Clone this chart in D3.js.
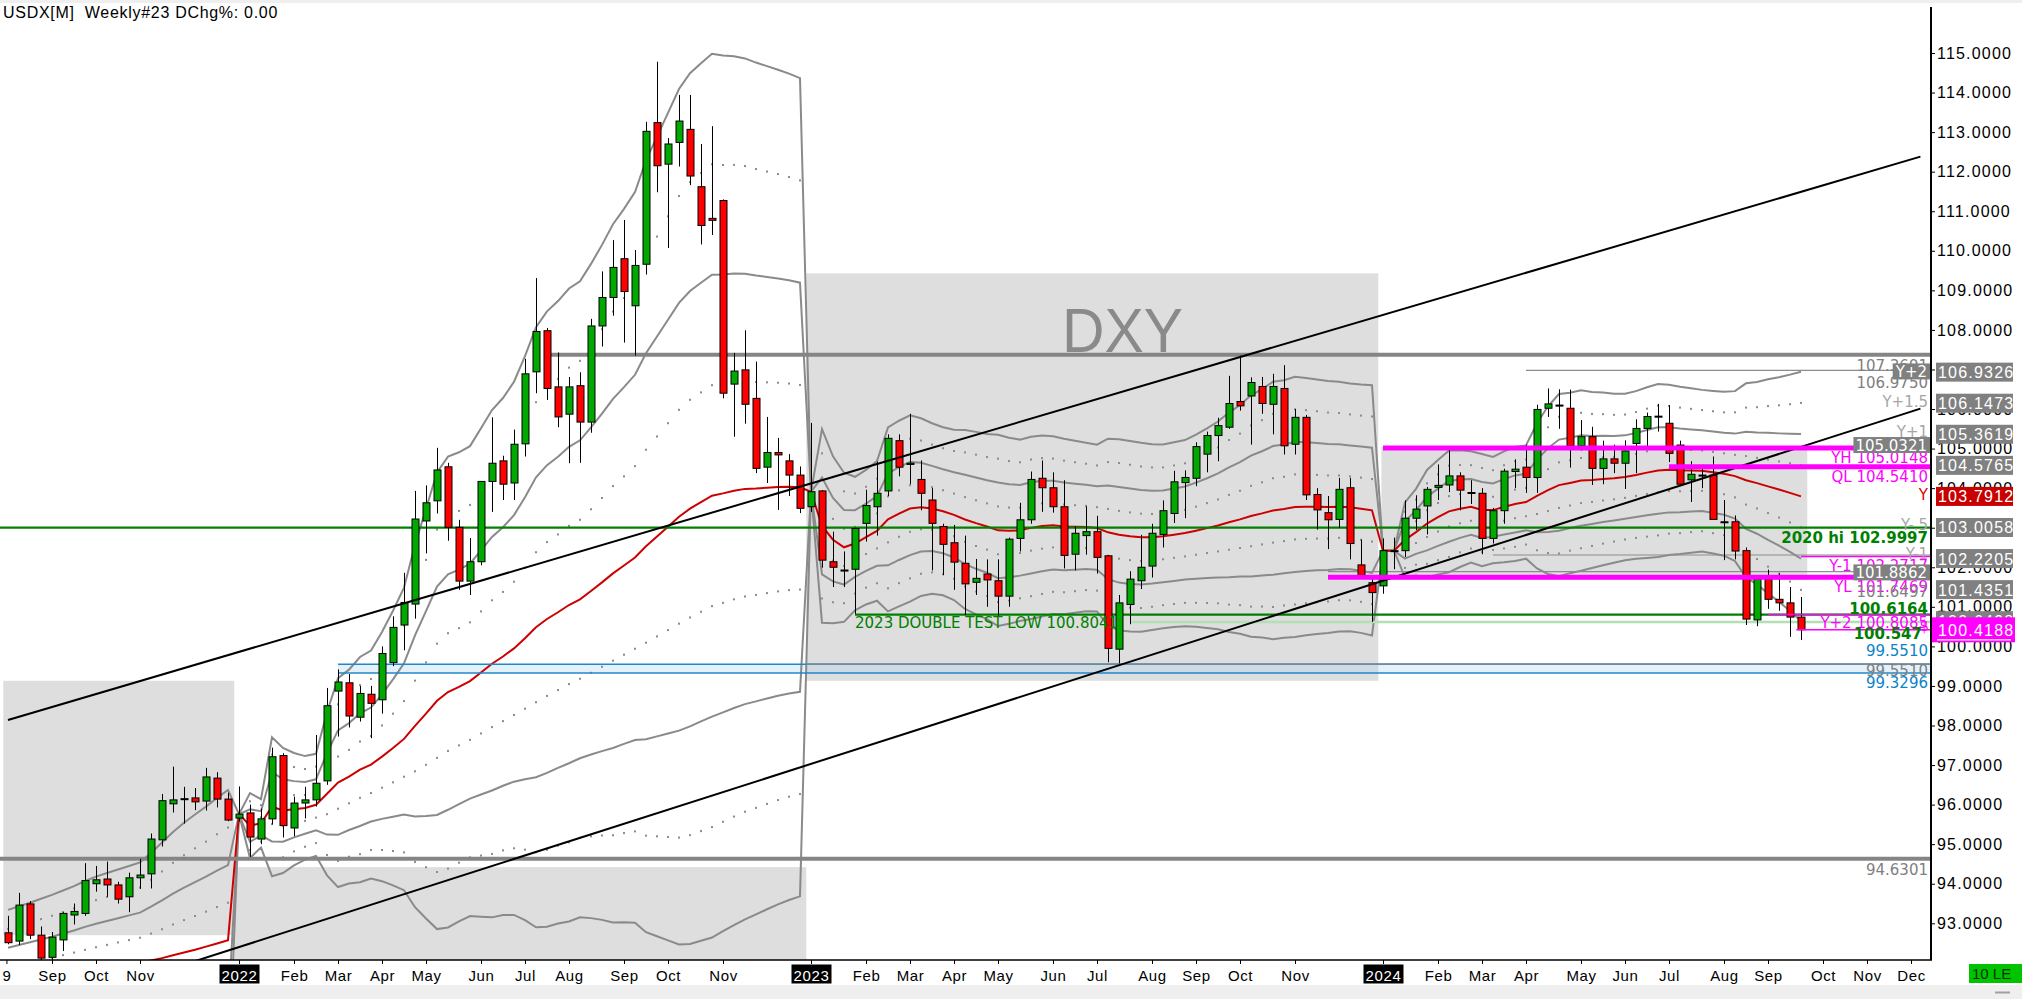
<!DOCTYPE html>
<html>
<head>
<meta charset="utf-8">
<script src="https://cdn.jsdelivr.net/npm/d3@7/dist/d3.min.js"></script>
<style>
  html, body { margin:0; padding:0; background:#fff; overflow:hidden; }
  svg { display:block; }
</style>
</head>
<body>
<svg id="chart" width="2022" height="999"></svg>
<script>
// ================= DATA =================
const firstWeek = "2021-08-09";

const open = [92.76,92.55,93.49,92.70,92.14,92.58,93.21,93.25,94.00,94.12,93.97,93.67,94.15,94.25,95.11,96.02,96.15,96.17,96.09,96.67,96.14,
95.66,95.79,95.13,95.64,97.24,95.41,96.04,96.12,96.60,98.87,99.08,98.21,98.79,98.65,99.59,100.54,101.07,103.17,103.68,104.54,103.01,101.65,102.14,104.17,104.69,104.13,105.12,106.94,107.98,106.56,105.87,106.59,105.67,108.10,108.82,109.80,108.61,109.66,113.24,112.19,112.74,113.07,111.62,110.82,111.27,106.63,106.99,106.27,104.53,104.90,104.69,104.33,
103.53,103.93,102.14,101.93,101.95,103.11,103.53,103.93,105.20,104.60,104.22,103.70,103.03,102.62,102.10,101.62,101.83,101.66,101.27,102.73,103.20,104.25,104.01,103.53,102.33,102.80,102.90,102.29,99.93,101.06,101.66,102.03,102.83,103.36,104.14,104.25,104.86,105.33,105.54,106.19,106.33,106.57,106.12,106.52,105.11,105.79,103.84,103.38,103.21,104.01,102.06,101.61,
101.53,102.42,102.42,103.24,103.55,104.02,104.08,104.31,103.89,103.87,102.73,103.43,104.42,104.53,104.27,106.02,106.10,106.02,105.07,105.30,104.50,104.74,104.63,105.13,105.51,105.82,105.64,105.09,104.21,104.33,104.33,103.15,103.15,102.42,100.67,101.70,101.19,101.10,100.74];

const high = [93.19,93.77,93.56,92.92,92.78,93.28,93.50,94.52,94.45,94.56,94.05,94.28,94.63,95.27,96.27,96.96,96.45,96.42,96.93,96.82,96.30,
96.46,96.00,95.90,97.44,97.30,96.20,96.45,97.76,98.95,99.42,99.30,99.00,99.00,100.00,100.76,101.86,103.93,104.07,105.02,104.64,103.20,102.74,104.18,105.79,104.82,105.48,107.27,109.31,108.05,107.43,106.81,106.93,108.28,109.48,110.27,110.78,110.02,113.26,114.78,112.85,113.94,113.94,112.70,113.15,111.30,107.42,107.99,107.20,105.80,105.27,104.86,104.55,
105.65,103.95,102.90,102.40,103.00,103.96,104.67,105.36,105.36,105.88,104.70,104.00,103.10,103.07,102.80,102.21,102.20,102.20,102.75,103.63,104.42,104.70,104.40,104.20,103.03,103.54,103.30,102.30,101.30,101.90,102.82,103.10,103.69,104.44,104.45,105.16,105.43,105.78,106.84,107.35,106.80,106.81,106.89,107.11,106.00,105.85,104.00,103.80,104.26,104.26,102.70,101.80,
102.73,102.75,103.69,103.82,104.03,104.60,104.97,104.40,104.20,104.00,103.50,104.49,104.73,105.10,106.11,106.52,106.50,106.49,105.72,105.55,105.20,105.10,105.21,105.74,105.91,106.13,106.10,105.20,104.68,104.59,104.80,103.70,103.31,102.50,101.75,101.94,101.85,101.50,101.25];

const low = [92.47,92.45,92.60,91.94,92.02,92.30,92.97,93.19,93.80,93.67,93.50,93.28,93.87,93.88,94.94,95.80,95.52,95.86,95.85,95.93,95.58,
95.57,94.68,95.00,95.50,95.17,95.20,95.65,95.95,96.50,97.72,97.95,98.10,97.68,98.30,99.50,99.90,100.70,102.35,103.36,102.67,101.43,101.30,102.05,103.40,103.70,103.70,104.80,106.40,106.23,105.54,104.63,104.64,105.40,107.58,108.36,107.68,107.35,109.40,111.48,110.07,112.13,111.66,110.16,110.40,106.27,105.30,105.63,104.38,104.13,103.45,103.80,103.37,
103.40,101.99,101.50,101.50,100.82,102.65,102.80,103.80,104.30,104.10,103.44,101.92,101.80,101.43,100.79,101.30,101.00,100.77,101.00,102.40,103.10,103.40,103.38,101.97,101.92,102.32,101.84,99.60,99.57,100.56,101.45,101.74,102.50,103.12,103.24,104.05,104.40,104.68,105.50,105.96,105.10,105.88,105.36,104.85,104.85,103.70,102.95,102.46,103.00,102.20,101.75,100.62,
101.33,101.95,102.26,102.94,102.83,103.70,103.90,103.44,103.60,102.33,102.60,103.10,104.00,103.88,103.88,105.80,105.50,104.52,104.95,104.08,104.10,104.38,103.98,104.38,105.00,105.43,104.66,104.08,103.65,104.00,103.21,102.18,102.20,100.54,100.51,100.95,100.90,100.24,100.16];

const close = [92.51,93.46,92.70,92.12,92.65,93.25,93.30,94.08,94.10,93.97,93.61,94.15,94.22,95.13,96.10,96.12,96.15,96.07,96.70,96.14,95.61,
95.76,95.18,95.64,97.21,95.47,96.04,96.12,96.54,98.50,99.10,98.24,98.81,98.56,99.82,100.48,101.11,103.22,103.63,104.46,103.01,101.65,102.14,104.17,104.63,104.10,105.11,106.89,107.96,106.52,105.80,106.56,105.67,108.10,108.82,109.58,108.97,109.63,113.02,112.15,112.70,113.28,111.89,110.64,110.77,106.40,106.96,106.12,104.50,104.90,104.84,104.33,103.49,
103.91,102.18,102.00,101.93,102.98,103.56,103.87,105.26,104.53,104.63,103.87,103.11,102.58,102.13,101.58,101.72,101.68,101.27,102.71,103.20,104.22,104.01,103.53,102.30,102.86,102.90,102.25,99.95,101.10,101.70,102.00,102.86,103.43,104.16,104.27,105.05,105.33,105.58,106.14,106.08,106.67,106.14,106.57,105.07,105.79,103.83,103.45,103.20,103.97,102.60,101.80,101.36,
102.42,102.42,103.24,103.47,103.97,104.07,104.31,103.95,103.89,102.73,103.43,104.43,104.48,104.27,105.99,106.13,106.10,105.07,105.30,104.50,104.74,104.63,104.94,105.51,105.81,105.82,104.88,104.10,104.35,104.33,103.21,103.15,102.41,100.69,101.70,101.19,101.10,100.74,100.42];

// 2021 yearly-average study (year began before the visible data)
const mean2021  = [91.42,91.47,91.52,91.56,91.60,91.65,91.70,91.75,91.80,91.85,91.90,91.95,92.00,92.06,92.12,92.19,92.26,92.33,92.41,92.49,92.57];
const sigma2021 = [0.96,0.98,1.00,1.03,1.06,1.09,1.12,1.16,1.19,1.21,1.23,1.25,1.27,1.36,1.46,1.56,1.64,1.71,1.77,1.84,1.90];
const bandSteps = [2, 1.5, 1, 0.5, -0.5, -1, -1.5, -2];

const priceTicks = [93,94,95,96,97,98,99,100,101,102,103,104,105,106,107,108,109,110,111,112,113,114,115];

const monthTicks = [
 ["2021-08-08","9"],["2021-09-06","Sep"],["2021-10-04","Oct"],["2021-11-01","Nov"],["2022-01-03","2022"],
 ["2022-02-07","Feb"],["2022-03-07","Mar"],["2022-04-04","Apr"],["2022-05-02","May"],["2022-06-06","Jun"],
 ["2022-07-04","Jul"],["2022-08-01","Aug"],["2022-09-05","Sep"],["2022-10-03","Oct"],["2022-11-07","Nov"],
 ["2023-01-02","2023"],["2023-02-06","Feb"],["2023-03-06","Mar"],["2023-04-03","Apr"],["2023-05-01","May"],
 ["2023-06-05","Jun"],["2023-07-03","Jul"],["2023-08-07","Aug"],["2023-09-04","Sep"],["2023-10-02","Oct"],
 ["2023-11-06","Nov"],["2024-01-01","2024"],["2024-02-05","Feb"],["2024-03-04","Mar"],["2024-04-01","Apr"],
 ["2024-05-06","May"],["2024-06-03","Jun"],["2024-07-01","Jul"],["2024-08-05","Aug"],["2024-09-02","Sep"],
 ["2024-10-07","Oct"],["2024-11-04","Nov"],["2024-12-02","Dec"]];

// shaded yearly zones: [from, to, low value, high value]
const zoneFrom = ["2021-08-06","2021-12-31","2022-12-30","2023-12-31"];
const zoneTo   = ["2021-12-31","2022-12-30","2023-12-29","2024-09-27"];
const zoneLow  = [92.70, 88.00, 99.13, 101.68];
const zoneHigh = [99.13, 94.42, 109.43, 105.04];

// horizontal levels
const greyLevels      = [107.3691, 94.6301];
const greyLevelFrom   = ["2022-07-18", null];
const greenLevels     = [102.9997, 100.8041];
const greenLevelFrom  = [null, "2023-01-30"];
const paleGreenLevel  = 100.6164, paleGreenFrom = "2023-07-24";
const blueLevels      = [99.5510, 99.3296], blueFrom = "2022-03-07";
const thinGreyLevels  = [106.975, 102.31, 101.89, 99.5510];
const thinGreyFrom    = ["2024-04-01","2024-03-11","2023-11-27","2022-12-30"];
const magentaThick    = [105.0148, 104.5410, 101.747];
const magentaThickFrom= ["2024-01-01","2024-07-01","2023-11-27"];
const magentaThin     = [102.2717, 100.8085, 100.4188];
const magentaThinFrom = ["2024-09-23","2024-09-02","2024-09-20"];

// trend channel lines [date, value]
const trendA = [["2021-08-09", 98.14], ["2024-12-08", 112.38]];
const trendB = [["2021-12-01", 91.98], ["2024-12-08", 106.01]];

// price boxes on the axis
const axisBoxValues = [106.9326,106.1473,105.3619,104.5765,103.7912,103.0058,102.2205,101.4351,100.6498,100.4188];
const axisBoxKinds  = ["g","g","g","g","r","g","g","g","g","m"];

// labels inside the plot by the right edge: [text, value, kind]
const innerLabels = [
 ["107.3691",107.11,"grey"],["106.9750",106.68,"grey"],["Y+1.5",106.19,"light"],["Y+1",105.43,"light"],
 ["YH  105.0148",104.78,"mag"],["QL  104.5410",104.29,"mag"],["Y",103.85,"red"],["Y-.5",103.09,"light"],
 ["2020 hi  102.9997",102.75,"greenB"],["Y-1",102.35,"light"],["Y-1  102.2717",102.05,"mag"],
 ["YL  101.7469",101.51,"mag"],["101.6497",101.38,"grey"],["100.6164",100.96,"greenB"],
 ["Y+2  100.8085",100.60,"mag"],["99.5510",99.89,"blue"],["99.5510",99.39,"grey"],["99.3296",99.08,"blue"],
 ["94.6301",94.37,"grey"]];
const boxedLabels = [["Y+2",106.95],["105.0321",105.09],["101.8862",101.87]];
const doubleTestText = ["2023 DOUBLE TEST LOW  100.8041", "2023-01-30", 100.61];

// ================= DRAW =================
const W = 2022, H = 999;
const plotL = 0, plotR = 1931, plotT = 7, plotB = 960;
const svg = d3.select("#chart");
const parse = d3.utcParse("%Y-%m-%d");
const dates = d3.range(close.length).map(i => d3.utcDay.offset(parse(firstWeek), 7 * i));
const x = d3.scaleUtc().domain([dates[0], dates[dates.length - 1]]).range([8, 1801]);
const y = d3.scaleLinear().domain([115, 93]).range([53, 923.3]);
const xs = s => s === null ? plotL : x(parse(s));

const C = {grey:"#808080", light:"#a6a6a6", mag:"#ff00ff", red:"#e00000", green:"#008000",
           blue:"#0a84c6", zone:"#dedede", candleUp:"#00a800", candleDn:"#ff0000", band:"#8a8a8a"};

svg.append("rect").attr("width", W).attr("height", H).attr("fill", "#fff");
svg.append("rect").attr("x",0).attr("y",0).attr("width",W).attr("height",3).attr("fill","#efefef");
svg.append("rect").attr("x",0).attr("y",985).attr("width",W).attr("height",14).attr("fill","#efefef");

svg.append("defs").append("clipPath").attr("id","plotclip").append("rect")
  .attr("x",plotL).attr("y",plotT).attr("width",plotR-plotL).attr("height",plotB-plotT);
const P = svg.append("g").attr("clip-path","url(#plotclip)");

// zones
P.append("g").selectAll("rect").data(zoneFrom).join("rect")
  .attr("x", (d,i) => xs(d))
  .attr("width", (d,i) => xs(zoneTo[i]) - xs(d))
  .attr("y", (d,i) => y(zoneHigh[i]))
  .attr("height", (d,i) => y(zoneLow[i]) - y(zoneHigh[i]))
  .attr("fill", C.zone);

// light blue channel between blue levels
P.append("rect").attr("x", xs(blueFrom)).attr("width", plotR - xs(blueFrom))
  .attr("y", y(blueLevels[0])).attr("height", y(blueLevels[1]) - y(blueLevels[0]))
  .attr("fill", "rgb(180,215,240)").attr("fill-opacity", 0.35);

// yearly average + deviation bands
const years = dates.map(d => d.getUTCFullYear());
const bandMean = [], bandSigma = [];
let acc = [];
for (let i = 0; i < close.length; i++) {
  if (years[i] === 2021) { bandMean.push(mean2021[i]); bandSigma.push(sigma2021[i]); continue; }
  if (years[i] !== years[i-1]) acc = [];
  acc.push(close[i]);
  bandMean.push(d3.mean(acc));
  bandSigma.push(acc.length > 1 ? d3.deviation(acc) : 0);
}
const line = d3.line().x(d => d[0]).y(d => d[1]);
const Bg = P.append("g");
bandSteps.forEach(k => {
  const pts = dates.map((d,i) => [x(d), y(bandMean[i] + k * bandSigma[i])]);
  if (Number.isInteger(k)) {
    Bg.append("path").attr("d", line(pts)).attr("fill","none").attr("stroke",C.band).attr("stroke-width",2);
  } else {
    Bg.append("g").selectAll("rect").data(pts).join("rect")
      .attr("x", d => d[0]-1).attr("y", d => d[1]-1).attr("width",2).attr("height",2).attr("fill","#8c8c8c");
  }
});
Bg.append("path").attr("d", line(dates.map((d,i) => [x(d), y(bandMean[i])])))
  .attr("fill","none").attr("stroke","#cc0000").attr("stroke-width",2);

// horizontal levels (under candles)
const hl = (v, from, color, w) => P.append("line").attr("x1", xs(from)).attr("x2", plotR)
  .attr("y1", y(v)).attr("y2", y(v)).attr("stroke", color).attr("stroke-width", w);
hl(paleGreenLevel, paleGreenFrom, "#b4dfb4", 2.5);
thinGreyLevels.forEach((v,i) => hl(v, thinGreyFrom[i], "#8c8c8c", 1.2));
blueLevels.forEach(v => hl(v, blueFrom, "#1f88c8", 1.5));
hl(thinGreyLevels[3], thinGreyFrom[3], "#8c8c8c", 1.2);
greyLevels.forEach((v,i) => hl(v, greyLevelFrom[i], "#858585", 4));
greenLevels.forEach((v,i) => hl(v, greenLevelFrom[i], "#008000", 2.2));

// candles
const bw = 7;
const Cg = P.append("g");
dates.forEach((d,i) => {
  const cx = Math.round(x(d)) + 0.5;
  Cg.append("line").attr("x1",cx).attr("x2",cx).attr("y1",y(high[i])).attr("y2",y(low[i]))
    .attr("stroke","#000").attr("stroke-width",1);
  const top = y(Math.max(open[i], close[i])), bot = y(Math.min(open[i], close[i]));
  Cg.append("rect").attr("x", cx - bw/2).attr("y", top).attr("width", bw)
    .attr("height", Math.max(1, bot - top))
    .attr("fill", close[i] >= open[i] ? C.candleUp : C.candleDn)
    .attr("stroke","#000").attr("stroke-width",1);
});

// trend lines
[trendA, trendB].forEach(t => P.append("line")
  .attr("x1", xs(t[0][0])).attr("y1", y(t[0][1])).attr("x2", xs(t[1][0])).attr("y2", y(t[1][1]))
  .attr("stroke","#000").attr("stroke-width",2));

// magenta levels
magentaThick.forEach((v,i) => hl(v, magentaThickFrom[i], C.mag, 5));
magentaThin.forEach((v,i) => hl(v, magentaThinFrom[i], C.mag, 1.5));

// DXY watermark
P.append("text").attr("x", 1062).attr("y", 352).attr("textLength", 121).attr("lengthAdjust","spacingAndGlyphs")
  .attr("font-family","Liberation Sans, Arial, sans-serif").attr("font-size", 63)
  .attr("fill","#8a8a8a").text("DXY");

// double test text
P.append("text").attr("x", xs(doubleTestText[1])).attr("y", y(doubleTestText[2]) + 5.5)
  .attr("font-family","DejaVu Sans, sans-serif").attr("font-size",15).attr("fill","#008000")
  .text(doubleTestText[0]);

// inner labels
const LF = "DejaVu Sans, sans-serif";
const colorOf = k => ({grey:C.grey, light:C.light, mag:C.mag, red:C.red, greenB:C.green, blue:C.blue})[k];
innerLabels.forEach(([t, v, k]) => {
  svg.append("text").attr("x", 1928).attr("y", y(v) + 5.5).attr("text-anchor","end")
    .attr("font-family", LF).attr("font-size", 15).attr("font-weight", k === "greenB" ? "bold" : "normal")
    .attr("fill", colorOf(k)).text(t);
});
svg.append("text").attr("x", 1922).attr("y", y(100.33) + 5.5).attr("text-anchor","end")
  .attr("font-family", LF).attr("font-size", 15).attr("font-weight","bold").attr("fill", C.green).text("100.547");
svg.append("text").attr("x", 1929).attr("y", y(100.52) + 5.5).attr("text-anchor","end")
  .attr("font-family", LF).attr("font-size", 15).attr("fill", C.mag).text("$");
boxedLabels.forEach(([t, v]) => {
  const tx = svg.append("text").attr("x", 1927).attr("y", y(v) + 5.5).attr("text-anchor","end")
    .attr("font-family", LF).attr("font-size", 15).attr("fill","#fff").text(t);
  const bb = tx.node().getBBox();
  svg.insert("rect", () => tx.node()).attr("x", bb.x - 2).attr("y", y(v) - 8).attr("width", 1931 - bb.x + 2)
    .attr("height", 16).attr("fill", C.grey);
});

// ---- right axis ----
const AF = "Liberation Sans, Arial, sans-serif";
const axR = d3.axisRight(y).tickValues(priceTicks).tickFormat(d3.format(".4f")).tickSize(4).tickPadding(2);
const gR = svg.append("g").attr("transform", `translate(${plotR},0)`).call(axR);
gR.select(".domain").remove();
gR.selectAll(".tick line").attr("stroke","#000");
gR.selectAll(".tick text").attr("font-family", AF).attr("font-size", 16).attr("letter-spacing", "1.2px").attr("fill","#000");
svg.append("line").attr("x1", plotR).attr("x2", plotR).attr("y1", plotT).attr("y2", plotB)
  .attr("stroke","#000").attr("stroke-width",2);

// axis price boxes
const boxFill = {g:"#808080", r:"#c80000", m:"#ff00ff"};
axisBoxValues.forEach((v,i) => {
  const k = axisBoxKinds[i];
  const h = k === "m" ? 25 : 19;
  const x0 = k === "m" ? 1932 : 1936, w = k === "m" ? 83 : 77;
  svg.append("rect").attr("x", x0).attr("y", y(v) - h/2).attr("width", w).attr("height", h).attr("fill", boxFill[k]);
  svg.append("text").attr("x", 1938).attr("y", y(v) + 6).attr("font-family", AF).attr("font-size", 16)
    .attr("letter-spacing","1.2px").attr("fill","#fff").text(d3.format(".4f")(v));
  if (k === "m") svg.append("line").attr("x1",1937).attr("x2",2011).attr("y1", y(v)+10).attr("y2", y(v)+10)
    .attr("stroke","#fff").attr("stroke-width",1.2);
});

// ---- bottom axis ----
const tickDates = monthTicks.map(d => parse(d[0]));
const tickLabel = new Map(monthTicks.map(d => [parse(d[0]).getTime(), d[1]]));
const axB = d3.axisBottom(x).tickValues(tickDates).tickFormat(d => tickLabel.get(d.getTime())).tickSize(4).tickPadding(6);
const gB = svg.append("g").attr("transform", `translate(0,${plotB})`).call(axB);
gB.select(".domain").remove();
gB.selectAll(".tick line").attr("stroke","#000");
gB.selectAll(".tick text").attr("font-family", AF).attr("font-size", 15).attr("letter-spacing","0.6px").attr("fill","#000");
gB.selectAll(".tick").each(function(d) {
  const lab = tickLabel.get(d.getTime());
  if (/^\d{4}$/.test(lab)) {
    const t = d3.select(this).select("text");
    t.attr("fill","#fff");
    d3.select(this).insert("rect","text").attr("x",-20).attr("y",4.5).attr("width",40).attr("height",19).attr("fill","#000");
  }
});
svg.append("line").attr("x1", 0).attr("x2", plotR + 1).attr("y1", plotB).attr("y2", plotB)
  .attr("stroke","#000").attr("stroke-width",1.5);

// green corner tag & scroll mark
svg.append("rect").attr("x",1969).attr("y",964).attr("width",53).attr("height",19).attr("fill","#00c400");
svg.append("text").attr("x",1972).attr("y",979).attr("font-family",AF).attr("font-size",15)
  .attr("fill","#003300").text("10 LE");
svg.append("line").attr("x1",1995).attr("x2",2010).attr("y1",992.5).attr("y2",992.5).attr("stroke","#a0a0a0").attr("stroke-width",2);

// title
svg.append("text").attr("x", 3).attr("y", 18).attr("font-family", AF).attr("font-size", 16)
  .attr("letter-spacing","0.7px").attr("fill","#000").attr("xml:space","preserve")
  .text("USDX[M]  Weekly#23 DChg%: 0.00");
</script>
</body>
</html>
